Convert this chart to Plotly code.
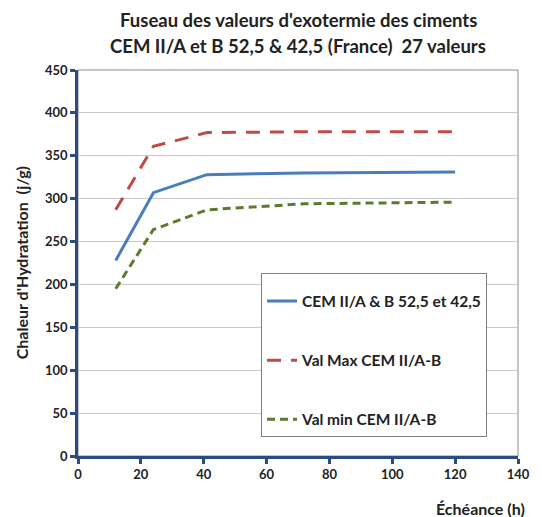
import plotly.graph_objects as go

# Échéances (heures) et chaleurs d'hydratation (J/g)
echeance = [12, 24, 41, 72, 120]
moyenne = [228, 307, 328, 330, 331]
val_max = [287, 361, 377, 378, 378]
val_min = [195, 264, 287, 294, 296]

x_ticks = [0, 20, 40, 60, 80, 100, 120, 140]
y_ticks = [0, 50, 100, 150, 200, 250, 300, 350, 400, 450]

title_lines = ["Fuseau des valeurs d'exotermie des ciments",
               "CEM II/A et B 52,5 & 42,5 (France)  27 valeurs"]

FONT = "Lato, 'Open Sans', sans-serif"
AXIS_COLOR = "#2B4C7E"
TEXT_COLOR = "#222222"

fig = go.Figure()
fig.add_trace(go.Scatter(
    x=echeance, y=moyenne, mode="lines", name="CEM II/A & B 52,5 et 42,5",
    line=dict(color="#4A7EBB", width=3), legendgroup="a"))
fig.add_trace(go.Scatter(
    x=echeance, y=val_max, mode="lines", name="Val Max CEM II/A-B",
    line=dict(color="#BE4B48", width=3, dash="14px,10px"), legendgroup="b"))
fig.add_trace(go.Scatter(
    x=echeance, y=val_min, mode="lines", name="Val min CEM II/A-B",
    line=dict(color="#5E7A2E", width=3, dash="8px,5px"), legendgroup="c"))

# plot-area frame (top/right edges in grey)
fig.add_shape(type="rect", xref="paper", yref="paper", x0=0, y0=0, x1=1, y1=1,
              line=dict(color="#8A8A8A", width=1), layer="below")

fig.update_layout(
    width=542, height=517,
    margin=dict(l=78, r=14, t=70, b=61),
    paper_bgcolor="white", plot_bgcolor="white",
    font=dict(family=FONT, size=13, color=TEXT_COLOR),
    xaxis=dict(
        range=[0, 140], tickvals=x_ticks, showgrid=False, zeroline=False,
        showline=True, linecolor=AXIS_COLOR, linewidth=2.5,
        ticks="outside", tickcolor=AXIS_COLOR, tickwidth=2.5, ticklen=5,
        tickfont=dict(family=FONT, size=13, weight="bold")),
    yaxis=dict(
        range=[0, 450], tickvals=y_ticks, showgrid=True, gridcolor="#C8C8C8",
        gridwidth=1, zeroline=False,
        showline=True, linecolor=AXIS_COLOR, linewidth=2.5,
        ticks="outside", tickcolor=AXIS_COLOR, tickwidth=2.5, ticklen=5,
        tickfont=dict(family=FONT, size=13, weight="bold")),
    legend=dict(
        x=0.416, y=0.474, xanchor="left", yanchor="top",
        bgcolor="white", bordercolor="#7F7F7F", borderwidth=1,
        font=dict(family=FONT, size=15.5, weight="bold"),
        title=dict(text=" ", font=dict(size=8)),
        tracegroupgap=36, entrywidth=255),
    showlegend=True,
)

# two-line title centred over the plot area
for i, line in enumerate(title_lines):
    fig.add_annotation(
        text=line, xref="paper", yref="paper", x=0.5, y=1 + (50 - 26 * i) / 386,
        showarrow=False, xanchor="center", yanchor="middle",
        font=dict(family=FONT, size=18.5, color=TEXT_COLOR, weight="bold"))

fig.add_annotation(
    text="Chaleur d'Hydratation  (j/g)", xref="paper", yref="paper",
    x=-0.129, y=0.5, textangle=-90, showarrow=False, xanchor="center", yanchor="middle",
    font=dict(family=FONT, size=16, color=TEXT_COLOR, weight="bold"))
fig.add_annotation(
    text="Échéance (h)", xref="paper", yref="paper",
    x=1.02, y=-0.135, showarrow=False, xanchor="right", yanchor="middle",
    font=dict(family=FONT, size=16, color=TEXT_COLOR, weight="bold"))

fig.write_html("out.html")
